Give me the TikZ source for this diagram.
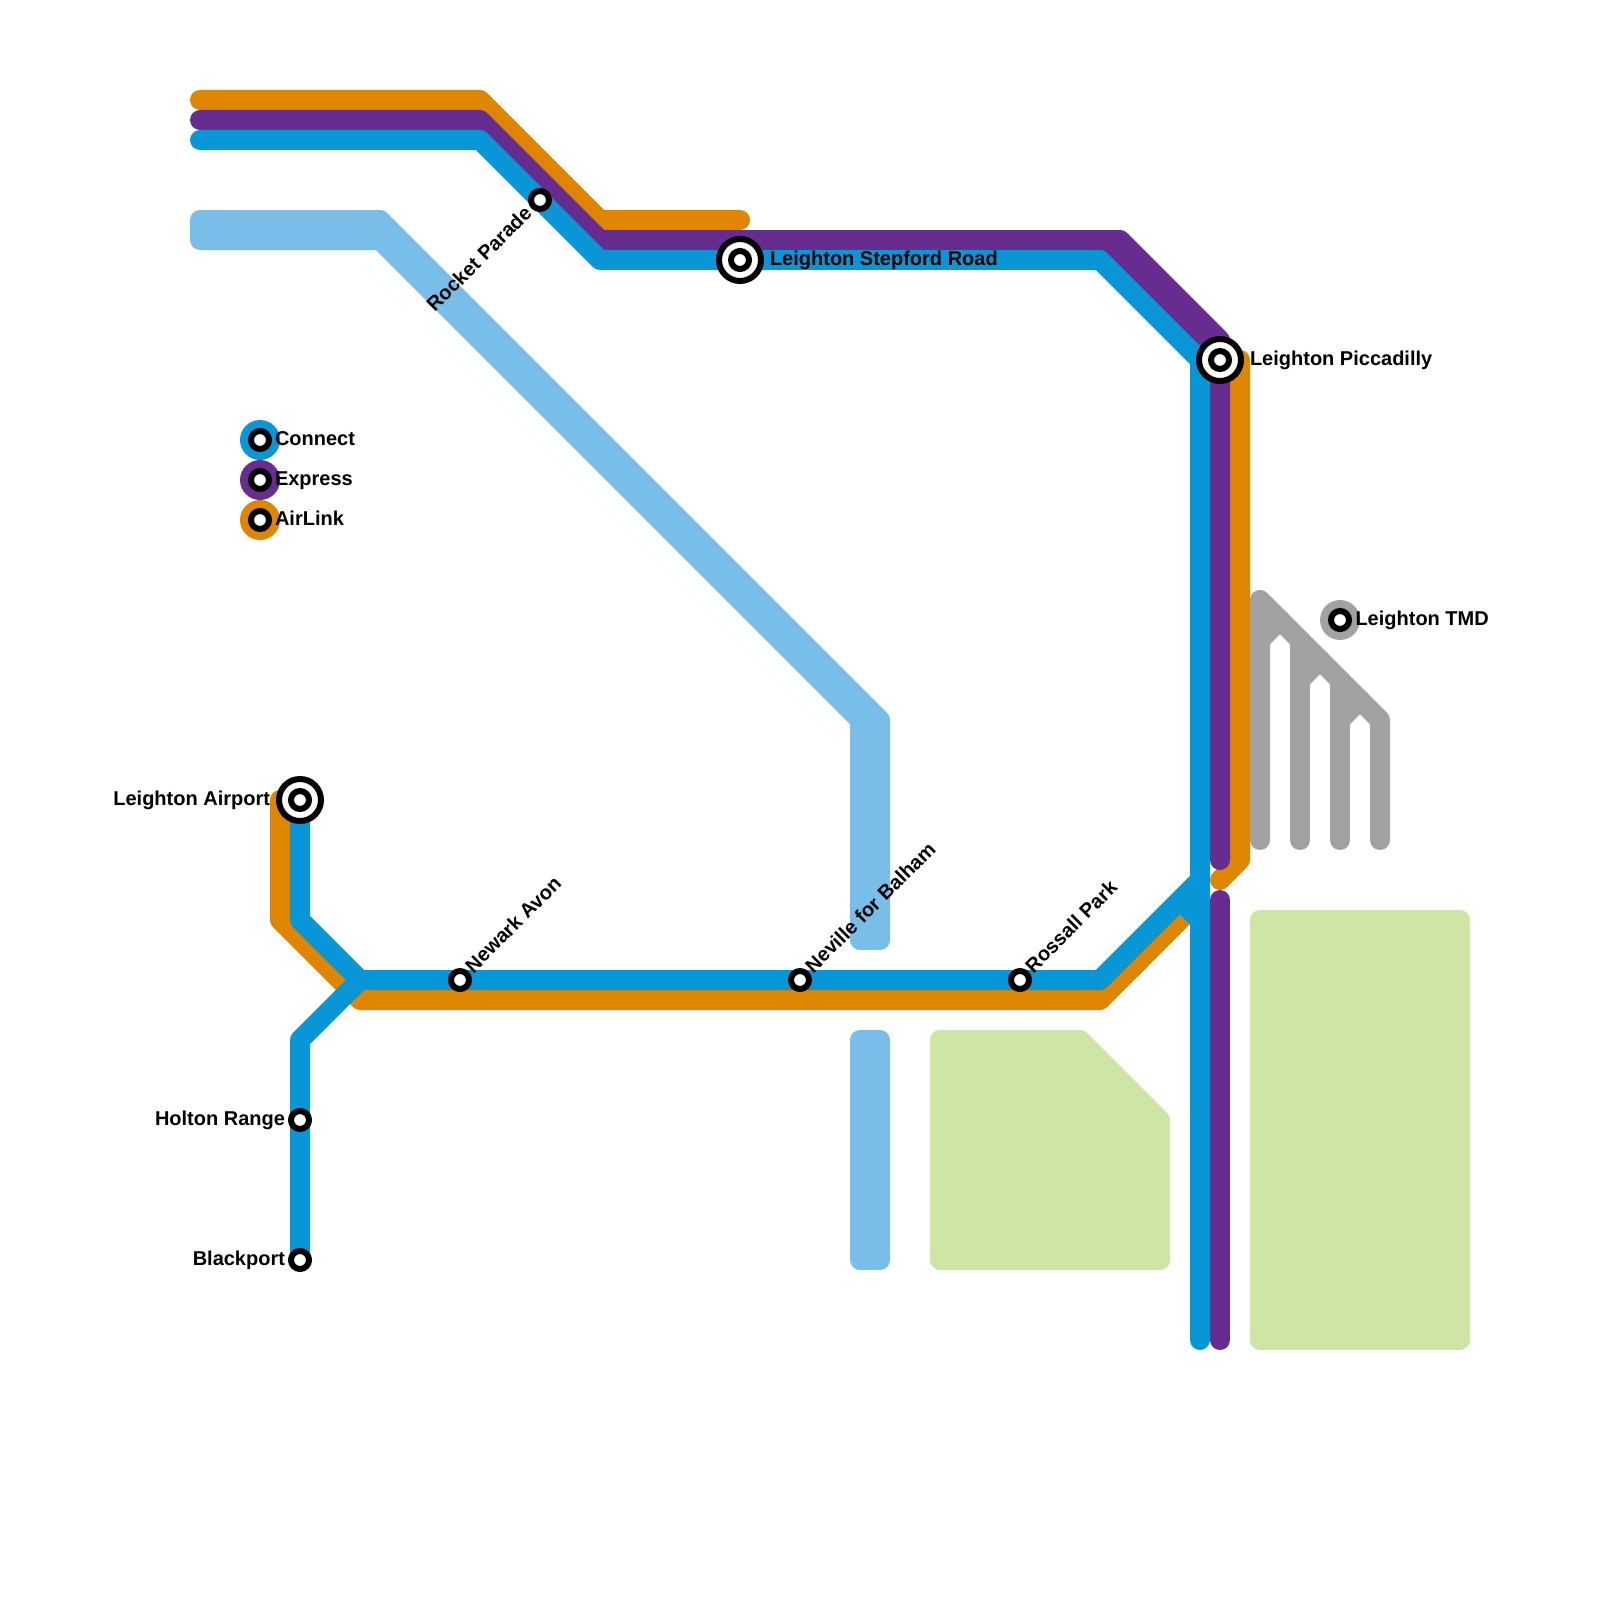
\documentclass[tikz,border=0pt]{standalone}
\usepackage{fontspec}
\setmainfont{Liberation Sans}
\definecolor{cblue}{HTML}{0896D7}
\definecolor{cpurple}{HTML}{662C90}
\definecolor{corange}{HTML}{DF8600}
\definecolor{cgrey}{HTML}{A2A2A2}
\definecolor{clight}{HTML}{79BDE9}
\definecolor{cgreen}{HTML}{CEE5A6}
\tikzset{
  rail/.style={line width=20pt,line cap=round,line join=round},
  park/.style={draw=cgreen,fill=cgreen,line width=20pt,line join=round},
  stn/.style={circle,draw=black,fill=white,line width=6pt,minimum size=18pt,inner sep=0pt,outer sep=0pt},
  ring/.style={circle,draw=black,fill=white,line width=6pt,minimum size=42pt,inner sep=0pt,outer sep=0pt},
  disc/.style={circle,minimum size=40pt,inner sep=0pt,outer sep=0pt},
  lbl/.style={font=\fontsize{20}{24}\selectfont\bfseries,inner sep=0pt,outer sep=0pt,text=black},
  lblr/.style={lbl,anchor=base west},
  lbll/.style={lbl,anchor=base east},
  lbld/.style={lbl,anchor=base west,rotate=45},
  lble/.style={lbl,anchor=base east,rotate=45}
}
\begin{document}
\begin{tikzpicture}[x=1pt,y=-1pt]
\useasboundingbox (0,0) rectangle (1600,1600);
\fill[white] (0,0) rectangle (1600,1600);
% station positions
\coordinate (rocketp) at (540,200);
\coordinate (newarkp) at (460,980);
\coordinate (nevillep) at (800,980);
\coordinate (rossallp) at (1020,980);
\coordinate (holtonp) at (300,1120);
\coordinate (blackp) at (300,1260);
\coordinate (stepp) at (740,260);
\coordinate (picp) at (1220,360);
\coordinate (airp) at (300,800);
\coordinate (hub) at (360,980);
% parks
\draw[park] (940,1040) -- (1080,1040) -- (1160,1120) -- (1160,1260) -- (940,1260) -- cycle;
\draw[park] (1260,920) -- (1460,920) -- (1460,1340) -- (1260,1340) -- cycle;
% light blue
\draw[rail,clight] (200,220) -- (380,220) -- (880,720) -- (880,940);
\draw[rail,clight] (200,240) -- (380,240) -- (860,720) -- (860,940);
\fill[clight] (190,220) rectangle (380,240);
\fill[clight] (860,720) rectangle (880,950);
\draw[rail,clight] (860,1040) -- (860,1260);
\draw[rail,clight] (880,1040) -- (880,1260);
\fill[clight] (860,1030) rectangle (880,1270);
% grey depot
\draw[rail,cgrey] (1260,840) -- (1260,600) -- (1380,720) -- (1380,840);
\draw[rail,cgrey] (1300,840) -- (1300,640);
\draw[rail,cgrey] (1340,840) -- (1340,680);
\draw[rail,cgrey] (1260,640) -- (1280,620);
\draw[rail,cgrey] (1300,680) -- (1320,660);
\draw[rail,cgrey] (1340,720) -- (1360,700);
% orange
\draw[rail,corange] (200,100) -- (480,100) -- (600,220) -- (740,220);
\draw[rail,corange] (1240,360) -- (1240,860) -- (1220,880);
\draw[rail,corange] (280,800) -- (280,920) -- (360,1000) -- (1100,1000) -- (1140,960);
\draw[line width=20pt,corange] (1130,970) -- (1182.5,917.5);
% purple
\draw[rail,cpurple] (200,120) -- (480,120) -- (600,240) -- (1120,240) -- (1220,340) -- (picp) -- (1220,860);
\draw[rail,cpurple] (1100,240) -- (picp);
\draw[rail,cpurple] (1220,900) -- (1220,1340);
% blue
\draw[rail,cblue] (200,140) -- (480,140) -- (600,260) -- (1100,260) -- (1200,360) -- (1200,1340);
\draw[rail,cblue] (airp) -- (300,920) -- (hub) -- (1100,980) -- (1200,880);
\draw[rail,cblue] (blackp) -- (300,1040) -- (hub);
\fill[cblue] (1175,910) -- (1190,925) -- (1190,900) -- cycle;
% large interchanges
\node[ring] (stepring) at (stepp) {};
\node[ring] (picring) at (picp) {};
\node[ring] (airring) at (airp) {};
% legend and depot discs
\node[disc,fill=cblue] (lgA) at (260,440) {};
\node[disc,fill=cpurple] (lgB) at (260,480) {};
\node[disc,fill=corange] (lgC) at (260,520) {};
\node[disc,fill=cgrey] (lgD) at (1340,620) {};
% stations
\node[stn] (rocket) at (rocketp) {};
\node[stn] (newark) at (newarkp) {};
\node[stn] (neville) at (nevillep) {};
\node[stn] (rossall) at (rossallp) {};
\node[stn] (holton) at (holtonp) {};
\node[stn] (black) at (blackp) {};
\node[stn] (step) at (stepp) {};
\node[stn] (pic) at (picp) {};
\node[stn] (air) at (airp) {};
\node[stn] (lgAs) at (lgA) {};
\node[stn] (lgBs) at (lgB) {};
\node[stn] (lgCs) at (lgC) {};
\node[stn] (tmd) at (lgD) {};
% labels
\node[lblr] (tA) at (275,445.5) {Connect};
\node[lblr] (tB) at (275,485.5) {Express};
\node[lblr] (tC) at (275,525.5) {AirLink};
\node[lblr] (tTmd) at (1355.5,625.5) {Leighton TMD};
\node[lblr] (tPic) at (1250,365.5) {Leighton Piccadilly};
\node[lblr] (tStep) at (770,265.5) {Leighton Stepford Road};
\node[lbll] (tAir) at (270,805.5) {Leighton Airport};
\node[lbll] (tHol) at (285,1125.5) {Holton Range};
\node[lbll] (tBla) at (285,1265.5) {Blackport};
\node[lbld] (tNew) at (473.5,974) {Newark Avon};
\node[lbld] (tNev) at (813.5,974) {Neville for Balham};
\node[lbld] (tRos) at (1033.5,974) {Rossall Park};
\node[lble] (tRoc) at (533,214.5) {Rocket Parade};
\end{tikzpicture}
\end{document}
